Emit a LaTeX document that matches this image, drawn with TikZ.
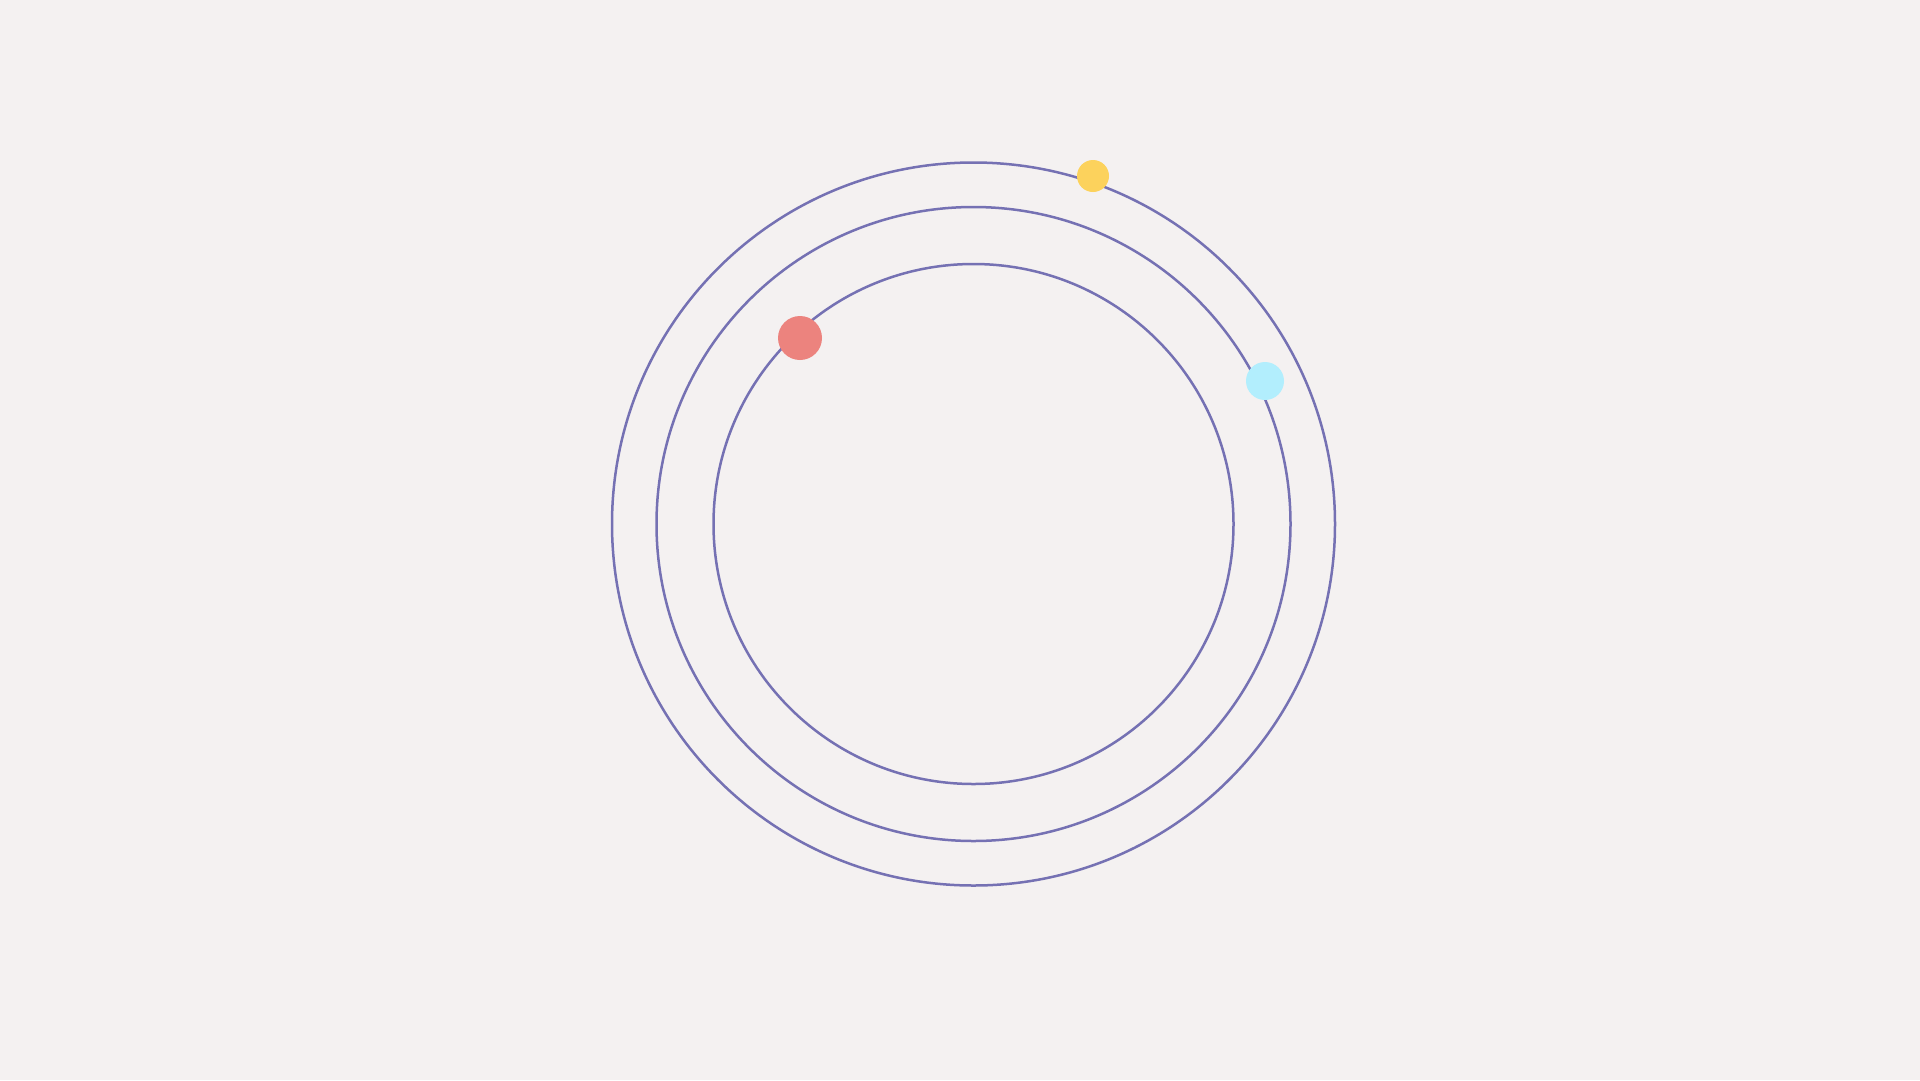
\documentclass[tikz,border=0pt]{standalone}
\definecolor{bg}{HTML}{F4F1F1}
\definecolor{orbit}{HTML}{7571B3}
\definecolor{dotY}{HTML}{FCD25C}
\definecolor{dotR}{HTML}{EC837E}
\definecolor{dotC}{HTML}{B2EEFD}
\begin{document}
\begin{tikzpicture}[x=1pt,y=-1pt,
  orbitline/.style={draw=orbit,line width=2.5pt,circle,inner sep=0pt,fill=none},
  planet/.style={circle,inner sep=0pt,draw=none}]
\fill[bg] (0,0) rectangle (1920,1080);
\useasboundingbox (0,0) rectangle (1920,1080);
\coordinate (c) at (973.5,524);
\node[orbitline,minimum size=723pt] (outer) at (c) {};
\node[orbitline,minimum size=634pt] (middle) at (c) {};
\node[orbitline,minimum size=520pt] (inner) at (c) {};
\node[planet,fill=dotY,minimum size=32pt] (yellow) at (1093,176) {};
\node[planet,fill=dotR,minimum size=44pt] (red) at (800,338) {};
\node[planet,fill=dotC,minimum size=38pt] (cyan) at (1265,381) {};
\end{tikzpicture}
\end{document}
